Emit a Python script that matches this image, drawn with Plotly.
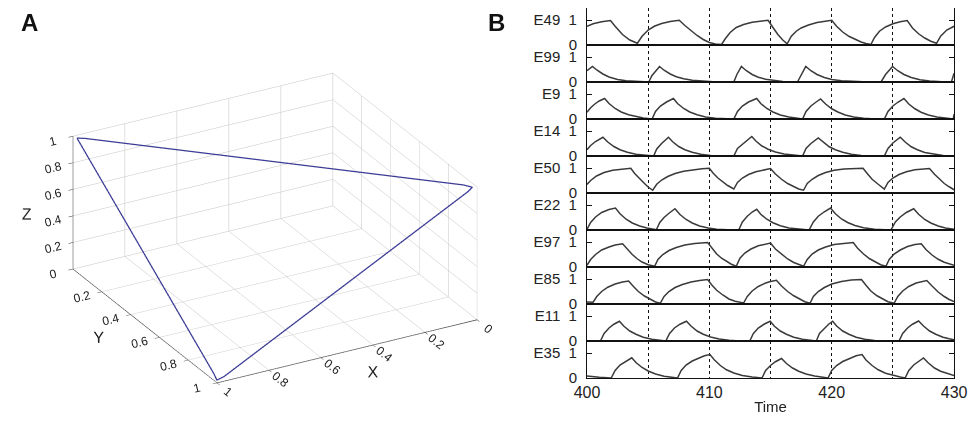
import plotly.graph_objects as go

# ---------------- Panel A data: trajectory on the heteroclinic triangle ----------------
traj_x = [0.99, 0.99, 0.99, 0.995, 0.97, 0.03, 0.01, 0.03, 0.97, 0.99]
traj_y = [0.01, 0.03, 0.96, 0.99, 0.995, 0.99, 0.985, 0.96, 0.03, 0.01]
traj_z = [0.99, 0.97, 0.03, 0.01, 0.03, 0.97, 0.99, 0.995, 0.995, 0.99]

axis3d_ticks = [0, 0.2, 0.4, 0.6, 0.8, 1]
axis3d_text = ["0", "0.2", "0.4", "0.6", "0.8", "1"]

# ---------------- Panel B data: (time, activity) ----------------
E49 = [(400.0,0.75),(400.5,0.85),(401.2,0.93),(401.92,0.98),(402.3,0.75),(402.9,0.42),(403.5,0.2),(404.12,0.07),
       (404.5,0.35),(405.0,0.6),(405.5,0.75),(406.1,0.86),(406.8,0.94),(407.54,0.99),(408.0,0.78),(408.5,0.57),
       (409.0,0.38),(409.5,0.22),(410.0,0.1),(410.5,0.04),(411.0,0.02),(411.3,0.25),(411.7,0.5),(412.2,0.7),
       (412.8,0.82),(413.5,0.91),(414.2,0.96),(414.8,0.99),(415.2,0.7),(415.6,0.42),(416.0,0.2),(416.36,0.05),
       (416.7,0.35),(417.1,0.55),(417.5,0.68),(418.1,0.8),(418.8,0.9),(419.4,0.95),(420.0,0.99),(420.4,0.75),
       (420.9,0.52),(421.4,0.35),(421.9,0.22),(422.4,0.12),(422.8,0.06),(423.2,0.02),(423.5,0.3),(423.9,0.55),
       (424.4,0.72),(425.0,0.85),(425.6,0.93),(426.17,0.98),(426.6,0.68),(427.1,0.45),(427.6,0.28),(428.1,0.15),
       (428.57,0.07),(428.9,0.35),(429.4,0.6),(430.0,0.75)]
E99 = [(400.0,0.45),(400.45,0.62),(400.8,0.48),(401.3,0.32),(401.8,0.2),(402.5,0.1),(403.2,0.05),(404.0,0.02),
       (405.05,0.0),(405.3,0.25),(405.6,0.45),(405.93,0.62),(406.3,0.47),(406.8,0.32),(407.3,0.21),(407.9,0.13),
       (408.6,0.07),(409.4,0.03),(410.3,0.01),(412.0,0.0),(412.25,0.3),(412.62,0.62),(413.0,0.46),(413.5,0.3),
       (414.0,0.19),(414.6,0.11),(415.3,0.05),(416.0,0.02),(417.2,0.0),(417.5,0.3),(417.88,0.62),(418.3,0.45),
       (418.8,0.3),(419.4,0.18),(420.0,0.1),(420.8,0.05),(421.8,0.02),(423.0,0.005),(424.03,0.0),(424.4,0.3),
       (424.97,0.62),(425.4,0.45),(425.9,0.3),(426.5,0.18),(427.2,0.09),(428.0,0.04),(429.0,0.01),(429.78,0.0),
       (430.0,0.35)]
E9 = [(400.0,0.27),(400.3,0.45),(400.64,0.6),(401.0,0.72),(401.44,0.82),(401.8,0.62),(402.3,0.42),(402.8,0.28),
      (403.4,0.17),(404.0,0.09),(404.6,0.04),(405.32,0.0),(405.6,0.3),(406.0,0.52),(406.5,0.68),(407.06,0.82),
      (407.4,0.62),(407.9,0.42),(408.4,0.28),(409.0,0.17),(409.7,0.08),(410.5,0.03),(411.5,0.005),(412.0,0.0),
      (412.3,0.3),(412.7,0.52),(413.2,0.68),(413.87,0.82),(414.2,0.62),(414.7,0.42),(415.2,0.28),(415.8,0.16),
      (416.5,0.08),(417.2,0.03),(417.62,0.0),(417.9,0.3),(418.3,0.52),(418.7,0.67),(419.09,0.8),(419.5,0.6),
      (420.0,0.41),(420.5,0.28),(421.1,0.16),(421.8,0.08),(422.6,0.03),(423.6,0.005),(424.3,0.0),(424.6,0.3),
      (425.0,0.52),(425.4,0.67),(425.9,0.82),(426.3,0.6),(426.8,0.41),(427.3,0.27),(427.9,0.16),(428.6,0.08),
      (429.4,0.03),(429.93,0.0),(430.0,0.2)]
E14 = [(400.0,0.25),(400.3,0.42),(400.7,0.58),(401.3,0.75),(401.7,0.56),(402.2,0.38),(402.7,0.25),(403.3,0.15),
       (404.0,0.07),(404.8,0.02),(405.45,0.0),(405.7,0.28),(406.1,0.5),(406.66,0.75),(407.0,0.57),(407.5,0.38),
       (408.0,0.25),(408.6,0.15),(409.3,0.07),(410.1,0.02),(411.0,0.005),(412.0,0.0),(412.3,0.3),(412.8,0.52),
       (413.47,0.78),(413.8,0.6),(414.3,0.4),(414.8,0.27),(415.4,0.16),(416.1,0.08),(416.9,0.03),(417.62,0.0),
       (417.9,0.3),(418.3,0.5),(418.9,0.72),(419.3,0.55),(419.8,0.37),(420.3,0.25),(420.9,0.15),(421.6,0.07),
       (422.4,0.02),(423.4,0.005),(424.3,0.0),(424.6,0.3),(425.0,0.52),(425.6,0.75),(426.0,0.56),(426.5,0.37),
       (427.0,0.25),(427.6,0.14),(428.3,0.07),(429.1,0.02),(430.0,0.005)]
E50 = [(400.0,0.34),(400.3,0.5),(400.78,0.68),(401.4,0.82),(402.1,0.91),(402.8,0.96),(403.58,0.99),(403.9,0.78),
       (404.3,0.56),(404.7,0.38),(405.0,0.24),(405.37,0.11),(405.7,0.35),(406.1,0.52),(406.6,0.66),(407.2,0.78),
       (407.9,0.87),(408.7,0.93),(409.4,0.97),(410.0,0.99),(410.3,0.8),(410.7,0.6),(411.1,0.43),(411.5,0.3),
       (412.0,0.16),(412.3,0.42),(412.7,0.6),(413.2,0.74),(413.8,0.85),(414.4,0.93),(415.0,0.98),(415.4,0.76),
       (415.9,0.55),(416.4,0.38),(416.9,0.24),(417.3,0.16),(417.7,0.11),(418.0,0.38),(418.4,0.55),(418.9,0.7),
       (419.5,0.82),(420.2,0.91),(421.0,0.96),(421.8,0.98),(422.56,0.99),(422.9,0.78),(423.3,0.55),(423.8,0.35),
       (424.3,0.16),(424.6,0.42),(425.0,0.6),(425.5,0.74),(426.1,0.85),(426.8,0.93),(427.4,0.96),(427.99,0.98),
       (428.4,0.75),(428.8,0.55),(429.2,0.38),(429.6,0.25),(430.0,0.13)]
E22 = [(400.0,0.02),(400.3,0.3),(400.7,0.52),(401.2,0.7),(401.8,0.82),(402.33,0.88),(402.7,0.65),(403.2,0.43),
       (403.7,0.28),(404.3,0.16),(404.9,0.08),(405.67,0.01),(405.95,0.3),(406.3,0.5),(406.7,0.67),(407.19,0.85),
       (407.6,0.62),(408.1,0.42),(408.6,0.28),(409.2,0.16),(409.9,0.08),(410.6,0.03),(411.5,0.01),(412.4,0.0),
       (412.7,0.32),(413.1,0.55),(413.5,0.72),(413.87,0.83),(414.2,0.63),(414.7,0.43),(415.2,0.29),(415.8,0.17),
       (416.5,0.08),(417.3,0.03),(418.15,0.0),(418.5,0.32),(418.9,0.55),(419.4,0.73),(419.9,0.88),(420.3,0.65),
       (420.8,0.44),(421.3,0.3),(421.9,0.18),(422.6,0.09),(423.5,0.03),(424.84,0.0),(425.2,0.32),(425.6,0.52),
       (426.1,0.7),(426.7,0.85),(427.1,0.63),(427.6,0.42),(428.1,0.28),(428.7,0.16),(429.3,0.08),(430.0,0.03)]
E97 = [(400.0,0.07),(400.3,0.3),(400.7,0.5),(401.2,0.68),(401.8,0.8),(402.3,0.88),(402.91,0.93),(403.3,0.7),
       (403.7,0.5),(404.1,0.33),(404.5,0.2),(405.0,0.09),(405.53,0.03),(405.8,0.3),(406.2,0.5),(406.7,0.66),
       (407.3,0.78),(408.0,0.88),(408.8,0.94),(409.86,0.98),(410.2,0.75),(410.6,0.52),(411.0,0.35),(411.4,0.22),
       (411.8,0.11),(412.2,0.03),(412.5,0.35),(412.9,0.56),(413.4,0.72),(414.0,0.85),(414.5,0.92),(415.0,0.96),
       (415.4,0.72),(415.9,0.5),(416.4,0.32),(416.9,0.18),(417.3,0.09),(417.7,0.03),(418.0,0.3),(418.4,0.52),
       (418.9,0.68),(419.5,0.8),(420.2,0.9),(421.0,0.95),(421.76,0.98),(422.1,0.76),(422.6,0.52),(423.1,0.33),
       (423.6,0.18),(424.0,0.09),(424.43,0.03),(424.7,0.3),(425.1,0.52),(425.6,0.68),(426.2,0.82),(426.8,0.9),
       (427.32,0.93),(427.7,0.7),(428.2,0.48),(428.7,0.31),(429.2,0.19),(429.6,0.12),(430.0,0.07)]
E85 = [(400.0,0.08),(400.5,0.07),(400.8,0.3),(401.2,0.5),(401.7,0.67),(402.3,0.8),(402.9,0.88),(403.4,0.92),
       (403.8,0.7),(404.2,0.5),(404.7,0.32),(405.2,0.17),(405.6,0.08),(405.99,0.03),(406.3,0.3),(406.7,0.5),
       (407.2,0.66),(407.8,0.78),(408.5,0.88),(409.2,0.94),(409.86,0.98),(410.2,0.76),(410.6,0.55),(411.1,0.36),
       (411.6,0.2),(412.1,0.11),(412.8,0.04),(413.1,0.3),(413.5,0.52),(414.0,0.7),(414.6,0.84),(415.0,0.9),
       (415.48,0.95),(415.9,0.72),(416.4,0.5),(416.9,0.33),(417.4,0.18),(417.8,0.09),(418.23,0.03),(418.5,0.3),
       (418.9,0.5),(419.4,0.66),(420.0,0.8),(420.8,0.9),(421.6,0.96),(422.43,0.98),(422.8,0.75),(423.2,0.52),
       (423.7,0.33),(424.2,0.18),(424.6,0.09),(425.1,0.03),(425.4,0.3),(425.8,0.52),(426.3,0.7),(426.9,0.84),
       (427.3,0.9),(427.77,0.94),(428.2,0.72),(428.7,0.48),(429.2,0.3),(429.6,0.18),(430.0,0.1)]
E11 = [(400.0,0.0),(401.1,0.0),(401.4,0.3),(401.8,0.52),(402.2,0.67),(402.65,0.79),(403.0,0.6),(403.5,0.4),
       (404.0,0.27),(404.6,0.15),(405.3,0.07),(406.0,0.02),(406.44,0.0),(406.75,0.3),(407.15,0.52),(407.6,0.67),
       (408.13,0.79),(408.5,0.6),(409.0,0.4),(409.5,0.27),(410.1,0.16),(410.8,0.08),(411.6,0.03),(412.5,0.005),
       (413.3,0.0),(413.6,0.3),(414.0,0.52),(414.5,0.68),(414.97,0.79),(415.3,0.6),(415.8,0.4),(416.3,0.27),
       (416.9,0.15),(417.6,0.07),(418.3,0.02),(418.74,0.0),(419.0,0.3),(419.4,0.52),(419.75,0.67),(420.08,0.79),
       (420.4,0.6),(420.9,0.4),(421.4,0.27),(422.0,0.15),(422.7,0.07),(423.5,0.02),(424.5,0.005),(425.5,0.0),
       (425.8,0.3),(426.2,0.52),(426.6,0.67),(427.1,0.8),(427.5,0.6),(428.0,0.4),(428.5,0.27),(429.1,0.15),
       (429.6,0.09),(430.0,0.05)]
E35 = [(400.0,0.08),(400.5,0.05),(401.0,0.03),(401.98,0.0),(402.3,0.3),(402.7,0.52),(403.2,0.68),(403.66,0.81),
       (404.0,0.62),(404.5,0.42),(405.0,0.28),(405.6,0.16),(406.3,0.07),(407.0,0.02),(407.4,0.0),(407.7,0.3),
       (408.1,0.52),(408.6,0.68),(409.2,0.82),(409.6,0.89),(410.05,0.94),(410.4,0.73),(410.9,0.5),(411.4,0.33),
       (412.0,0.2),(412.7,0.1),(413.5,0.04),(414.3,0.0),(414.6,0.3),(415.0,0.5),(415.4,0.65),(415.9,0.78),
       (416.3,0.58),(416.8,0.4),(417.3,0.27),(417.9,0.16),(418.6,0.08),(419.3,0.03),(419.7,0.0),(420.0,0.3),
       (420.4,0.5),(420.9,0.66),(421.5,0.8),(422.0,0.89),(422.48,0.94),(422.8,0.72),(423.3,0.5),(423.8,0.33),
       (424.4,0.19),(425.0,0.1),(425.6,0.04),(426.0,0.0),(426.3,0.3),(426.7,0.52),(427.1,0.67),(427.5,0.8),
       (427.9,0.6),(428.4,0.4),(428.9,0.27),(429.5,0.16),(430.0,0.1)]

row_names = ["E49", "E99", "E9", "E14", "E50", "E22", "E97", "E85", "E11", "E35"]
row_series = [E49, E99, E9, E14, E50, E22, E97, E85, E11, E35]

time_ticks = [400, 405, 410, 415, 420, 425, 430]
time_labels = ["400", "", "410", "", "420", "", "430"]
time_range = [400, 430]
act_range = [0, 1.48]

FONT = "Liberation Sans, Arial, Helvetica, sans-serif"
TXT = "#222222"

fig = go.Figure()

# ---------------- Panel A ----------------
fig.add_trace(go.Scatter3d(
    x=traj_x, y=traj_y, z=traj_z, mode="lines",
    line=dict(color="#3c3c96", width=2.5),
    showlegend=False, hoverinfo="skip", scene="scene"))

def ax3d(title):
    return dict(
        title=dict(text=title, font=dict(size=16, color=TXT, family=FONT)),
        range=[0, 1], tickvals=axis3d_ticks, ticktext=axis3d_text,
        tickfont=dict(size=12, color=TXT, family=FONT),
        showbackground=False, showgrid=True, gridcolor="#c4c4c4", gridwidth=1,
        showline=True, linecolor="#333333", linewidth=1.5,
        ticks="outside", ticklen=5, tickcolor="#333333",
        zeroline=False, showspikes=False, autorange=False)

eye_r = 1.6
eye_dir = (0.4359, 0.7863, 0.438)
fig.update_layout(scene=dict(
    domain=dict(x=[0.004, 0.552], y=[0.0, 0.919]),
    xaxis=ax3d("X"), yaxis=ax3d("Y"), zaxis=ax3d("Z"),
    aspectmode="manual", aspectratio=dict(x=1.59, y=1.59, z=0.79),
    camera=dict(eye=dict(x=eye_dir[0]*eye_r, y=eye_dir[1]*eye_r, z=eye_dir[2]*eye_r),
                up=dict(x=0, y=0, z=1), center=dict(x=0, y=0, z=0),
                projection=dict(type="orthographic")),
    bgcolor="rgba(0,0,0,0)"))

# ---------------- Panel B ----------------
n = len(row_names)
top, bottom = 1.0, 0.0909
h = (top - bottom) / n
xdom = [0.6031, 0.9855]
for i, (name, pts) in enumerate(zip(row_names, row_series)):
    k = i + 1
    xs = "" if k == 1 else str(k)
    xa, ya = "x" + xs, "y" + xs
    fig.add_trace(go.Scatter(
        x=[p[0] for p in pts], y=[p[1] for p in pts], mode="lines",
        line=dict(color="#3a3a3a", width=1.5),
        xaxis=xa, yaxis=ya, showlegend=False, hoverinfo="skip"))
    last = (k == n)
    xaxis = dict(
        domain=xdom, anchor=ya, range=time_range, automargin=False,
        tickvals=time_ticks, ticktext=time_labels,
        showticklabels=last, ticks="", ticklabeloverflow="allow",
        tickfont=dict(size=16, color=TXT, family=FONT),
        showgrid=True, griddash="dot", gridcolor="#111111", gridwidth=1,
        showline=True, mirror=True, linecolor="#111111", linewidth=1,
        zeroline=False)
    if last:
        xaxis["title"] = dict(text="Time", font=dict(size=15, color=TXT, family=FONT), standoff=2)
    if k > 1:
        xaxis["matches"] = "x"
    yaxis = dict(
        domain=[top - (i + 1) * h, top - i * h], anchor=xa, range=act_range, automargin=False,
        tickvals=[0, 1], ticktext=["0", name + "\u00a0\u00a01"],
        tickfont=dict(size=15, color=TXT, family=FONT),
        ticks="inside", ticklen=5, tickcolor="#111111", ticklabelstandoff=6,
        showgrid=False, zeroline=False,
        showline=True, mirror="ticks", linecolor="#111111", linewidth=1)
    fig.layout["xaxis" + xs] = xaxis
    fig.layout["yaxis" + xs] = yaxis

# panel letters
fig.add_annotation(text="<b>A</b>", x=0.0115, y=0.9656, xref="paper", yref="paper",
                   xanchor="left", yanchor="middle", showarrow=False,
                   font=dict(size=24, color="#111111", family=FONT))
fig.add_annotation(text="<b>B</b>", x=0.498, y=0.9656, xref="paper", yref="paper",
                   xanchor="left", yanchor="middle", showarrow=False,
                   font=dict(size=24, color="#111111", family=FONT))

fig.update_layout(template="none", width=960, height=407, margin=dict(l=0, r=0, t=0, b=0),
                  paper_bgcolor="white", plot_bgcolor="white",
                  font=dict(family=FONT, color=TXT), showlegend=False)

fig.write_html("out.html")
